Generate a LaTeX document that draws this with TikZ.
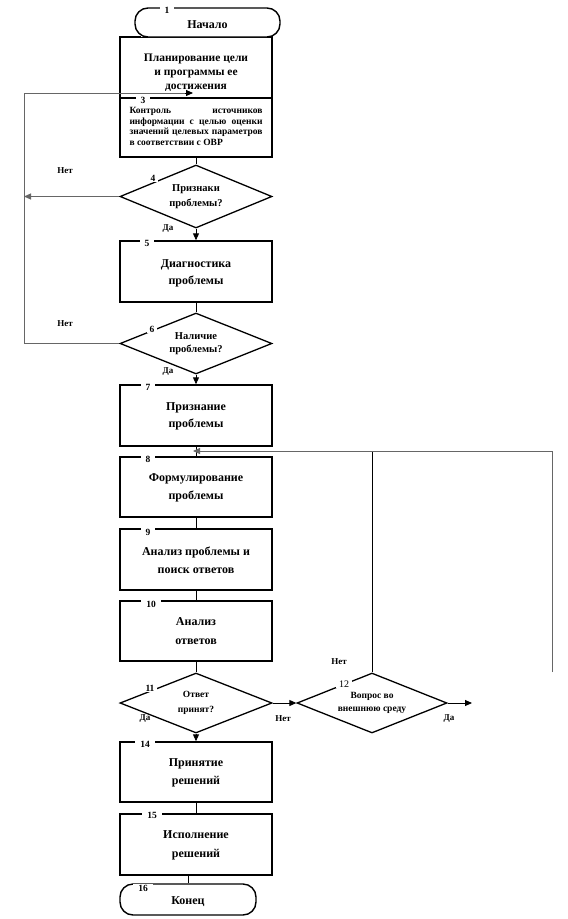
\documentclass[tikz,border=0pt]{standalone}
\usepackage{fontspec}
\setmainfont{Liberation Serif}
\usetikzlibrary{arrows.meta,shapes.geometric}
\begin{document}
\begin{tikzpicture}[x=1pt,y=-1pt,
  font=\bfseries\fontsize{12}{17.5}\selectfont,
  box/.style={draw, line width=1.4pt, minimum width=152pt, minimum height=60pt, inner sep=0pt, fill=white},
  txt/.style={inner sep=0pt, align=center},
  term/.style={draw, line width=1.4pt, rounded corners=13pt, inner sep=0pt, fill=white},
  dec/.style={draw, line width=1.3pt, shape=diamond, aspect=2.5, inner sep=0pt, minimum width=152pt, minimum height=61pt, align=center, font=\bfseries\fontsize{10.5}{14.5}\selectfont},
  num/.style={fill=white, inner xsep=5pt, inner ysep=1pt, font=\bfseries\fontsize{9.5}{10}\selectfont},
  lbl/.style={font=\bfseries\fontsize{9}{10}\selectfont, inner sep=0pt},
  conn/.style={line width=0.9pt},
  loop/.style={line width=1pt, draw=black!60},
  arr/.style={-{Triangle[length=7pt,width=6pt]}}
]
\useasboundingbox[fill=white] (0,0) rectangle (568,919);

% box 2 and its (mostly hidden) label
\node[box, minimum height=61pt] (b2) at (196,67.5) {};
\node[txt, font=\bfseries\fontsize{11.5}{14}\selectfont] (b2t) at ([yshift=-5pt]b2.center) {Планирование цели\\ и программы ее\\ достижения};
\node[num] (n2) at (148,33) {2};
% terminal 1
\node[term, minimum width=145pt, minimum height=29pt] (t1) at (207.5,22.5) {};
\node[txt] (t1t) at ([yshift=-2pt]t1.center) {Начало};
\node[num] (n1) at (167,10) {1};

% box 3
\node[box, minimum height=59pt] (b3) at (196,127.5) {};
\node[txt, font=\bfseries\fontsize{9.5}{10.6}\selectfont] (b3t) at (b3.center) {%
  \begin{tabular}{@{}l@{}}
  \makebox[133pt][s]{Контроль источников}\\
  \makebox[133pt][s]{информации с целью оценки}\\
  \makebox[133pt][s]{значений целевых параметров}\\
  в соответствии с ОВР
  \end{tabular}};
\node[num] (n3) at (143,100) {3};

% decision 4
\node[dec, minimum height=63pt] (d4) at (196,196.5) {Признаки\\ проблемы?};
\node[num, inner xsep=3pt] (n4) at (153,178) {4};

% box 5
\node[box, minimum height=61pt] (b5) at (196,271.5) {};
\node[txt] (b5t) at ([yshift=-2pt]b5.center) {Диагностика\\ проблемы};
\node[num] (n5) at (147,243) {5};

% decision 6
\node[dec, font=\bfseries\fontsize{10.5}{13.5}\selectfont] (d6) at (196,343.5) {Наличие\\ проблемы?};
\node[num, inner xsep=3pt] (n6) at (152,329) {6};

% box 7
\node[box, minimum height=61pt] (b7) at (196,415.5) {};
\node[txt] (b7t) at ([yshift=-1pt]b7.center) {Признание\\ проблемы};
\node[num] (n7) at (148,387) {7};

% box 8
\node[box] (b8) at (196,487) {};
\node[txt] (b8t) at ([yshift=-1pt]b8.center) {Формулирование\\ проблемы};
\node[num] (n8) at (148,459) {8};

% box 9
\node[box, minimum height=61pt] (b9) at (196,559.5) {};
\node[txt] (b9t) at ([yshift=-1pt]b9.center) {Анализ проблемы и\\ поиск ответов};
\node[num] (n9) at (148,532) {9};

% box 10
\node[box] (b10) at (196,631) {};
\node[txt, font=\bfseries\fontsize{12}{19}\selectfont] (b10t) at (b10.center) {Анализ\\ ответов};
\node[num] (n10) at (151,604) {10};

% decision 11
\node[dec, minimum height=60pt, font=\bfseries\fontsize{9.5}{15}\selectfont] (d11) at (196,703) {Ответ\\ принят?};
\node[num, inner xsep=3pt] (n11) at (150,688) {11};

% decision 12
\node[dec, minimum width=150pt, minimum height=60pt, font=\bfseries\fontsize{9.5}{13}\selectfont] (d12) at (372,703) {Вопрос во\\ внешнюю среду};
\node[num, inner xsep=3pt, font=\fontsize{10}{10}\selectfont] (n12) at (344,684) {12};

% box 14
\node[box] (b14) at (196,772) {};
\node[txt] (b14t) at ([yshift=-1pt]b14.center) {Принятие\\ решений};
\node[num] (n14) at (145,744) {14};

% box 15
\node[box, minimum height=61pt] (b15) at (196,844.5) {};
\node[txt, font=\bfseries\fontsize{12}{19}\selectfont] (b15t) at ([yshift=-1pt]b15.center) {Исполнение\\ решений};
\node[num] (n15) at (152,815) {15};

% terminal 16
\node[term, minimum width=136pt, minimum height=31pt] (t16) at (188,899.5) {};
\node[txt] (t16t) at ([yshift=-2pt]t16.center) {Конец};
\node[num] (n16) at (143,888) {16};

% labels
\node[lbl] (l1) at (65,171) {Нет};
\node[lbl] (l2) at (168,229) {Да};
\node[lbl] (l3) at (65,324) {Нет};
\node[lbl] (l4) at (168,372) {Да};
\node[lbl] (l5) at (145,719) {Да};
\node[lbl] (l6) at (283,719) {Нет};
\node[lbl] (l7) at (339,662) {Нет};
\node[lbl] (l8) at (449,719) {Да};

% coordinates
\coordinate (cTop) at (24,93);
\coordinate (cBot) at (24,343.5);
\coordinate (cIn) at (193,93);
\coordinate (c4L) at (24,196.5);
\coordinate (cJ) at (193,451);
\coordinate (cR) at (552,451);
\coordinate (cRend) at (552,672);
\coordinate (c12T) at (372,451);
\coordinate (c12R) at (472,703);

% connectors
\draw[conn] (b3.south -| d4.north) -- (d4.north);
\draw[conn, arr] (d4.south) -- (d4.south |- b5.north);
\draw[loop, arr] (d4.west) -- (c4L);
\draw[conn] (b5.south -| d6.north) -- (d6.north);
\draw[conn, arr] (d6.south) -- (d6.south |- b7.north);
\draw[loop] (d6.west) -- (cBot) -- (cTop) -- ([xshift=-8pt]cIn);
\draw[conn, arr] ([xshift=-8pt]cIn) -- (cIn);
\draw[conn] (b7.south) -- (b8.north);
\draw[conn] (b8.south) -- (b9.north);
\draw[conn] (b9.south) -- (b10.north);
\draw[conn] (b10.south) -- (d11.north);
\draw[conn, arr] (d11.south) -- (d11.south |- b14.north);
\draw[conn, arr] (d11.east) -- (d12.west);
\draw[conn] (d12.north) -- (c12T);
\draw[loop, arr] (cRend) -- (cR) -- (cJ);
\draw[conn, arr] (d12.east) -- (c12R);
\draw[conn] (b14.south) -- (b15.north);
\draw[conn] (b15.south -| t16.north) -- (t16.north);
\end{tikzpicture}
\end{document}
